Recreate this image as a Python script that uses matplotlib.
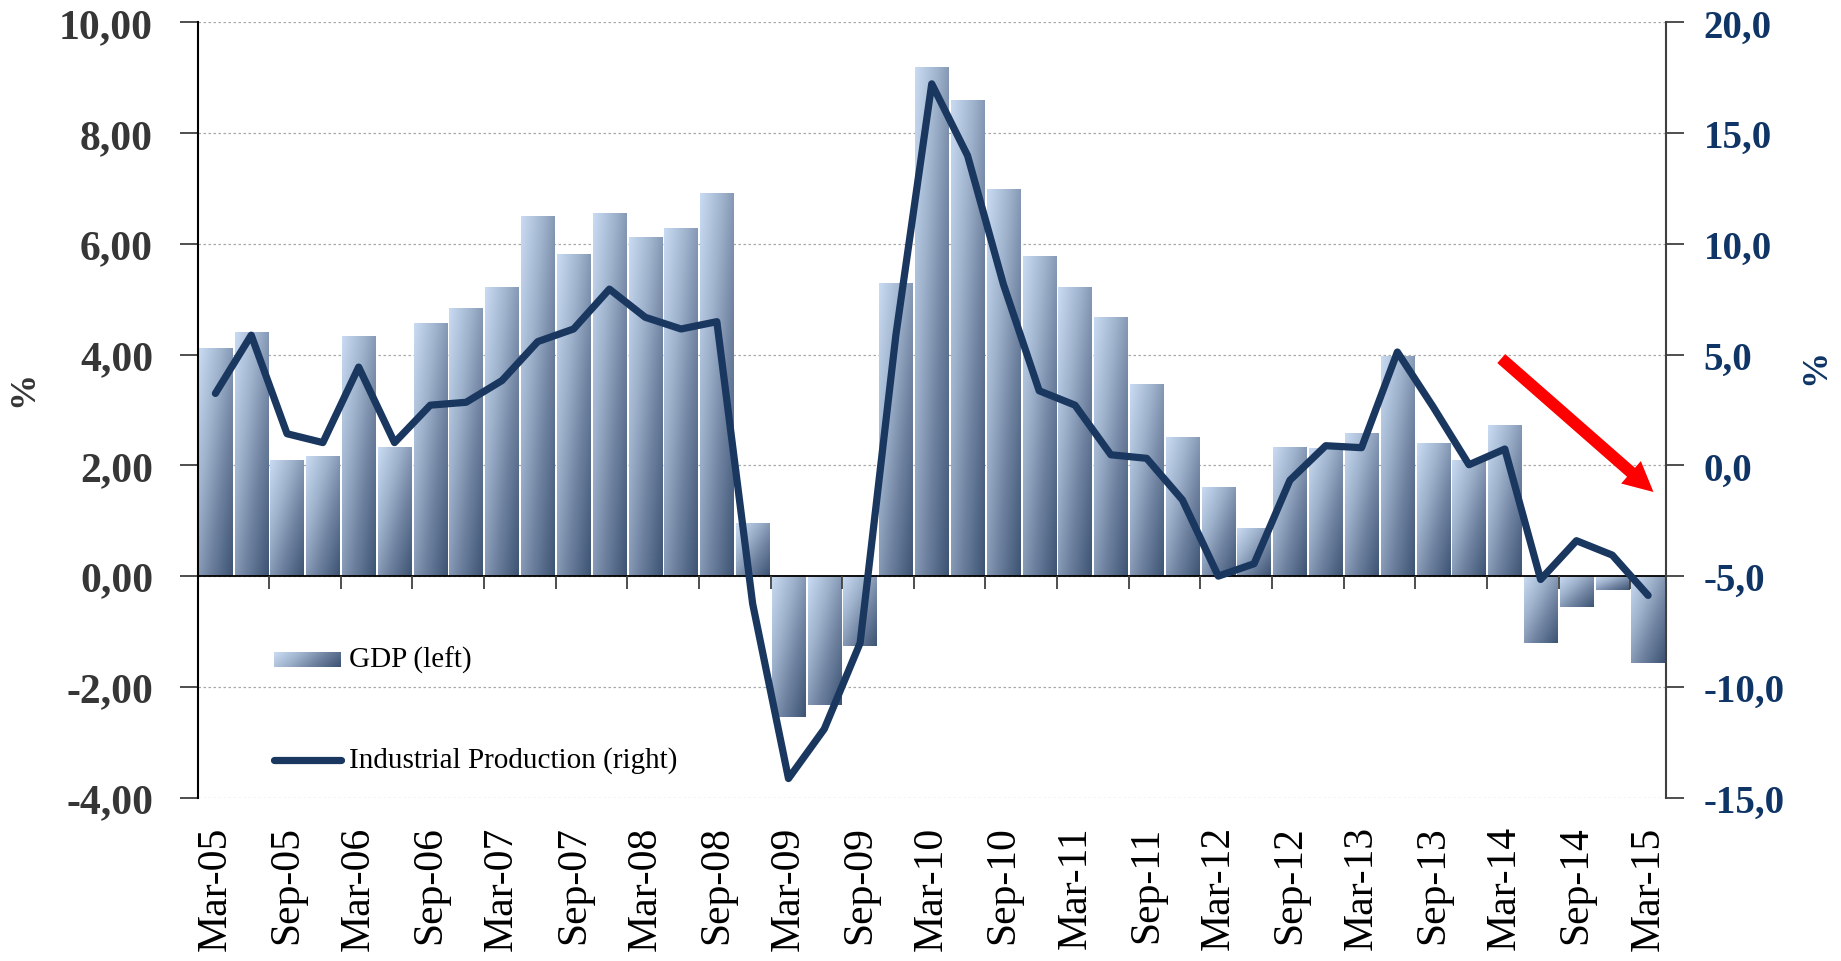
import numpy as np
import matplotlib
matplotlib.use("Agg")
import matplotlib.pyplot as plt
from matplotlib.colors import LinearSegmentedColormap
from matplotlib.lines import Line2D

# ---------------- data ----------------
quarters = ["Mar-05", "Jun-05", "Sep-05", "Dec-05", "Mar-06", "Jun-06", "Sep-06", "Dec-06",
            "Mar-07", "Jun-07", "Sep-07", "Dec-07", "Mar-08", "Jun-08", "Sep-08", "Dec-08",
            "Mar-09", "Jun-09", "Sep-09", "Dec-09", "Mar-10", "Jun-10", "Sep-10", "Dec-10",
            "Mar-11", "Jun-11", "Sep-11", "Dec-11", "Mar-12", "Jun-12", "Sep-12", "Dec-12",
            "Mar-13", "Jun-13", "Sep-13", "Dec-13", "Mar-14", "Jun-14", "Sep-14", "Dec-14",
            "Mar-15"]

gdp = [4.11, 4.39, 2.09, 2.15, 4.32, 2.33, 4.56, 4.83, 5.21, 6.49, 5.80, 6.55, 6.11, 6.27,
       6.91, 0.94, -2.55, -2.33, -1.27, 5.28, 9.19, 8.59, 6.98, 5.77, 5.21, 4.67, 3.46, 2.50,
       1.60, 0.85, 2.32, 2.30, 2.57, 3.96, 2.40, 2.09, 2.71, -1.20, -0.55, -0.25, -1.57]

industrial = [3.25, 5.88, 1.43, 1.03, 4.44, 1.03, 2.72, 2.85, 3.83, 5.59, 6.16, 7.96, 6.69,
              6.16, 6.49, -6.25, -14.14, -11.90, -8.02, 5.90, 17.23, 13.99, 8.18, 3.37, 2.72,
              0.48, 0.32, -1.56, -5.00, -4.44, -0.67, 0.89, 0.80, 5.12, 2.64, 0.03, 0.74,
              -5.15, -3.40, -4.05, -5.87]

left_ticks = [-4, -2, 0, 2, 4, 6, 8, 10]
right_ticks = [-15, -10, -5, 0, 5, 10, 15, 20]
left_tick_labels = ["-4,00", "-2,00", "0,00", "2,00", "4,00", "6,00", "8,00", "10,00"]
right_tick_labels = ["-15,0", "-10,0", "-5,0", "0,0", "5,0", "10,0", "15,0", "20,0"]

gdp_label = "GDP (left)"
ip_label = "Industrial Production (right)"

# trend arrow (start/end in category index, left-axis value)
arrow_start = (35.9, 3.93)
arrow_end = (40.15, 1.52)

# ---------------- style ----------------
FONT = "Liberation Serif"
LEFT_COLOR = "#363636"
RIGHT_COLOR = "#0f3566"
LINE_COLOR = "#1a3760"
LINE_W = 5.2
grad_cmap = LinearSegmentedColormap.from_list(
    "bar", ["#c9dbf2", "#9fb3cd", "#6c809e", "#3e5474"])

N = 64
ii, jj = np.mgrid[0:N, 0:N] / (N - 1)
grad = (ii + jj) / 2.0   # light top-left -> dark bottom-right

fig = plt.figure(figsize=(18.41, 9.62), dpi=100)
ax = fig.add_axes([0.10728, 0.16986, 0.79766, 0.80572])
ax2 = ax.twinx()

x = np.arange(len(quarters))

# bars (gradient fill drawn inside each bar rectangle)
bars = ax.bar(x, gdp, width=0.93, facecolor="none", edgecolor="none", zorder=2)
for b in bars:
    x0, y0 = b.get_x(), b.get_y()
    w, h = b.get_width(), b.get_height()
    lo, hi = min(y0, y0 + h), max(y0, y0 + h)
    ax.imshow(grad, cmap=grad_cmap, vmin=0, vmax=1, extent=(x0, x0 + w, lo, hi),
              origin="upper", aspect="auto", interpolation="bilinear", zorder=2)

# zero line and category ticks on it
ax.axhline(0, color="black", lw=1.3, zorder=3)
ax.vlines([k - 0.5 for k in range(2, len(quarters), 2)], -0.24, 0,
          color="#404040", lw=1.3, zorder=3)

# line on right axis
ax2.plot(x, industrial, color=LINE_COLOR, lw=LINE_W, solid_joinstyle="round",
         solid_capstyle="round", zorder=4)

# arrow
ax.annotate("", xy=arrow_end, xytext=arrow_start,
            arrowprops=dict(arrowstyle="simple,head_length=2.15,head_width=2.15,tail_width=0.86",
                            mutation_scale=10, color="#ff0000", lw=0,
                            shrinkA=0, shrinkB=0), zorder=6)

# axes limits
ax.set_xlim(-0.5, len(quarters) - 0.5)
ax.set_ylim(-4, 10)
ax2.set_ylim(-15, 20)

# grid
ax.set_yticks(left_ticks)
ax.set_yticklabels(left_tick_labels)
ax.yaxis.grid(True, linestyle=(0, (2, 2)), color="#a8a8a8", lw=0.9, zorder=0)
ax.set_axisbelow(True)

ax2.set_yticks(right_ticks)
ax2.set_yticklabels(right_tick_labels)

ax.set_xticks(x[::2])
ax.set_xticklabels(quarters[::2], rotation=90, fontfamily=FONT, fontweight="normal",
                   fontsize=30, color="black")
ax.tick_params(axis="x", length=0, pad=20)
ax.tick_params(axis="y", direction="out", length=13, width=1.3, color="#404040", pad=19,
               labelsize=30, labelcolor=LEFT_COLOR)
ax2.tick_params(axis="y", direction="out", length=13, width=1.3, color="#404040", pad=14,
                labelsize=28, labelcolor=RIGHT_COLOR)
for lab in ax.get_yticklabels():
    lab.set_fontfamily(FONT)
    lab.set_fontweight("bold")
for lab in ax2.get_yticklabels():
    lab.set_fontfamily(FONT)
    lab.set_fontweight("bold")

for s in ["top", "bottom", "right"]:
    ax.spines[s].set_visible(False)
for s in ["top", "bottom", "left"]:
    ax2.spines[s].set_visible(False)
ax.spines["left"].set_color("black")
ax.spines["left"].set_linewidth(1.5)
ax2.spines["right"].set_color("#404040")
ax2.spines["right"].set_linewidth(1.5)

# axis titles
fig.text(0.013, 0.596, "%", rotation=90, ha="center", va="center", fontfamily=FONT,
         fontweight="bold", fontsize=26, color=LEFT_COLOR)
fig.text(0.9864, 0.6185, "%", rotation=90, ha="center", va="center", fontfamily=FONT,
         fontweight="bold", fontsize=26, color=RIGHT_COLOR)

# legend (manual, inside plot area)
lg = np.tile(np.linspace(0, 1, N), (8, 1))
lg = lg * 0.8 + np.linspace(0, 0.2, 8)[:, None]
ax.imshow(lg, cmap=grad_cmap, vmin=0, vmax=1, extent=(0.0518, 0.0974, 0.1685, 0.1878),
          transform=ax.transAxes, origin="upper", aspect="auto", interpolation="bilinear",
          zorder=5)
ax.text(0.103, 0.1785, gdp_label, transform=ax.transAxes, ha="left", va="center",
        fontfamily=FONT, fontsize=21, color="black", zorder=5)
ax.add_line(Line2D([0.0518, 0.0974], [0.0485, 0.0485], transform=ax.transAxes,
                   color=LINE_COLOR, lw=LINE_W, solid_capstyle="round", zorder=5))
ax.text(0.103, 0.0485, ip_label, transform=ax.transAxes, ha="left", va="center",
        fontfamily=FONT, fontsize=21, color="black", zorder=5)

ax.set_xlim(-0.5, len(quarters) - 0.5)
ax.set_ylim(-4, 10)

fig.savefig("out.png", dpi=100)
